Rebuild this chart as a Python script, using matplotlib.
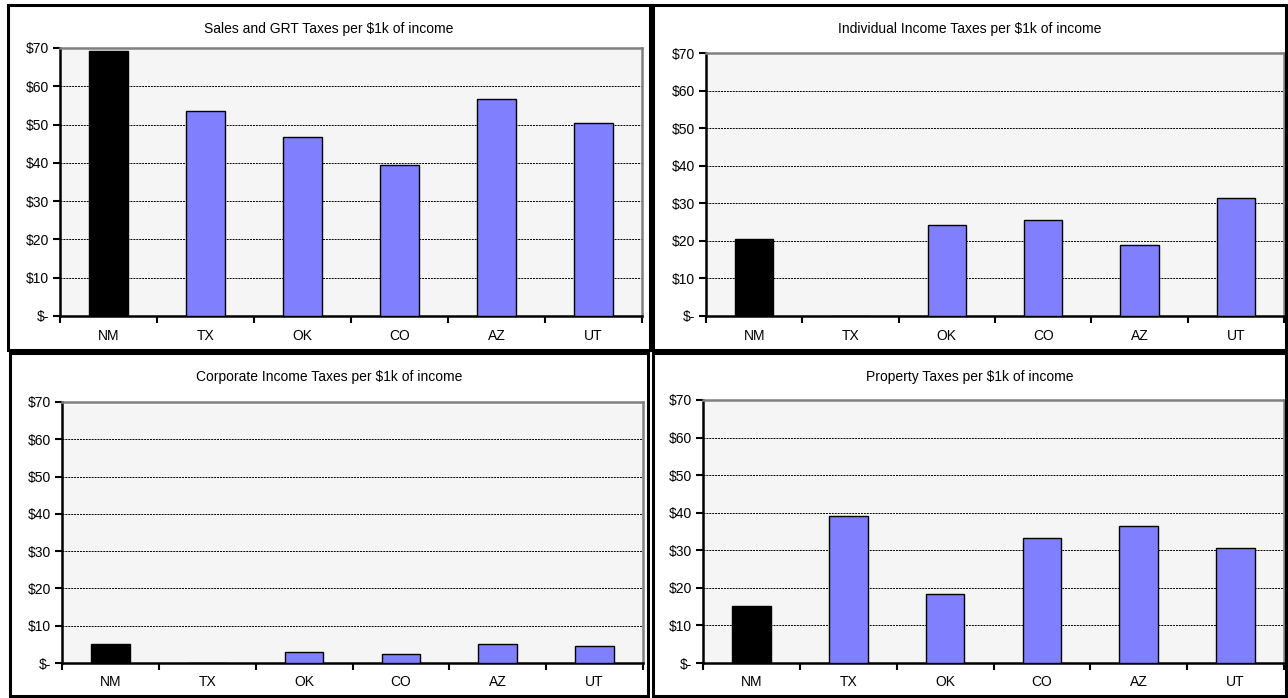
import numpy as np
import matplotlib.pyplot as plt
from matplotlib.patches import Rectangle

plt.rcParams['font.family'] = ['Liberation Sans', 'DejaVu Sans']

states = ['NM', 'TX', 'OK', 'CO', 'AZ', 'UT']
sales_grt = [69.3, 53.6, 46.7, 39.5, 56.7, 50.5]
individual_income = [20.5, 0.0, 24.3, 25.5, 18.9, 31.4]
corporate_income = [5.1, 0.0, 3.0, 2.5, 5.1, 4.6]
property_tax = [15.2, 39.2, 18.3, 33.2, 36.4, 30.5]
yticks = [0, 10, 20, 30, 40, 50, 60, 70]
ytick_labels = ['$-', '$10', '$20', '$30', '$40', '$50', '$60', '$70']

W, H = 1288, 698
fig = plt.figure(figsize=(W / 100, H / 100), dpi=100)


def px_box(x0, y0, x1, y1):
    # pixel box (top-left origin) -> figure fraction
    return [x0 / W, 1 - y1 / H, (x1 - x0) / W, (y1 - y0) / H]


def panel(frame, area, values, title, title_y):
    fx0, fy0, fx1, fy1 = frame
    fig.patches.append(Rectangle((fx0 / W, 1 - fy1 / H), (fx1 - fx0) / W, (fy1 - fy0) / H,
                                 transform=fig.transFigure, fill=False,
                                 edgecolor='black', linewidth=2.2))
    ax = fig.add_axes(px_box(*area))
    ax.set_facecolor('#f5f5f5')
    x = np.arange(len(states))
    colors = ['black'] + ['#8080ff'] * (len(states) - 1)
    ax.bar(x, values, width=0.4, color=colors, edgecolor='black', linewidth=1, zorder=3)
    ax.set_xlim(-0.5, len(states) - 0.5)
    ax.set_ylim(0, 70)
    ax.set_yticks(yticks)
    ax.set_yticklabels(ytick_labels)
    for v in yticks[1:-1]:
        ax.axhline(v, color='black', linestyle=(0, (2, 1)), linewidth=0.7, zorder=1)
    # category labels centred, tick marks between categories
    ax.set_xticks(np.arange(-0.5, len(states)), minor=False)
    ax.set_xticklabels([])
    ax.set_xticks(x, minor=True)
    ax.set_xticklabels(states, minor=True)
    ax.tick_params(axis='x', which='minor', length=0, pad=9, labelsize=10)
    ax.tick_params(axis='x', which='major', length=5, width=1.5, direction='out')
    ax.tick_params(axis='y', length=5, width=1.5, direction='out', labelsize=10, pad=3)
    ax.spines['left'].set_linewidth(1.8)
    ax.spines['bottom'].set_linewidth(1.8)
    ax.spines['top'].set_color('#808080')
    ax.spines['right'].set_color('#808080')
    ax.spines['top'].set_linewidth(1.8)
    ax.spines['right'].set_linewidth(1.8)
    cx = (fx0 + fx1) / 2 / W
    fig.text(cx, 1 - title_y / H, title, ha='center', va='center', fontsize=10)
    return ax


panel((8, 5, 650, 350), (60, 48, 642, 316), sales_grt,
      'Sales and GRT Taxes per $1k of income', 29)
panel((653, 5, 1286, 350), (706, 53, 1284, 316), individual_income,
      'Individual Income Taxes per $1k of income', 29)
panel((10, 353, 648, 696), (62, 402, 643, 663), corporate_income,
      'Corporate Income Taxes per $1k of income', 377)
panel((653, 353, 1286, 696), (703, 400, 1284, 663), property_tax,
      'Property Taxes per $1k of income', 377)

fig.savefig('out.png', dpi=100)
